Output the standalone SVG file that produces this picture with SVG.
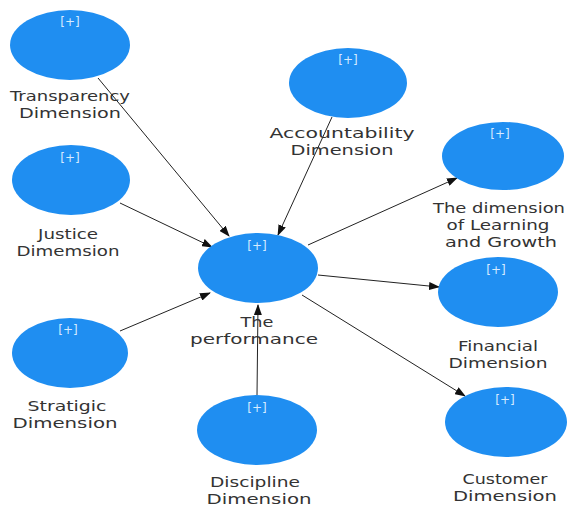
<svg xmlns="http://www.w3.org/2000/svg" width="571" height="508" viewBox="0 0 571 508">
<defs>
<marker id="arr" markerWidth="11" markerHeight="8" refX="10" refY="4" orient="auto" markerUnits="userSpaceOnUse">
<path d="M0,0 L11,4 L0,8 z" fill="#111"/>
</marker>
<style>
.n{fill:#1f8ef1;}
.p{font-family:"DejaVu Sans",sans-serif;font-size:12px;fill:#d6ebff;text-anchor:middle;}
.l{font-family:"DejaVu Sans",sans-serif;font-size:14px;fill:#333;text-anchor:middle;}
.c{stroke:#222;stroke-width:1;fill:none;marker-end:url(#arr);}
</style>
</defs>
<rect width="571" height="508" fill="#fff"/>
<g id="connectors">
<line class="c" x1="98" y1="78" x2="229" y2="236"/>
<line class="c" x1="120" y1="203" x2="212" y2="247"/>
<line class="c" x1="120" y1="331" x2="210" y2="293"/>
<line class="c" x1="332" y1="117" x2="278" y2="235"/>
<line class="c" x1="257" y1="395" x2="258" y2="305"/>
<line class="c" x1="308" y1="245" x2="457" y2="178"/>
<line class="c" x1="318" y1="275" x2="439" y2="287"/>
<line class="c" x1="302" y1="295" x2="465" y2="396"/>
</g>
<g id="transparency">
<ellipse class="n" cx="70" cy="45" rx="60" ry="35"/>
<text class="p" x="70" y="26">[+]</text>
<text class="l" x="70" y="101" textLength="120" lengthAdjust="spacingAndGlyphs">Transparency</text>
<text class="l" x="70" y="118" textLength="102" lengthAdjust="spacingAndGlyphs">Dimension</text>
</g>
<g id="accountability">
<ellipse class="n" cx="348" cy="83" rx="59" ry="35"/>
<text class="p" x="348" y="64">[+]</text>
<text class="l" x="342" y="138" textLength="145" lengthAdjust="spacingAndGlyphs">Accountability</text>
<text class="l" x="342" y="155" textLength="103" lengthAdjust="spacingAndGlyphs">Dimension</text>
</g>
<g id="performance">
<ellipse class="n" cx="258" cy="268" rx="60" ry="35"/>
<text class="p" x="257" y="250">[+]</text>
<text class="l" x="257" y="327" textLength="33" lengthAdjust="spacingAndGlyphs">The</text>
<text class="l" x="254" y="344" textLength="128" lengthAdjust="spacingAndGlyphs">performance</text>
</g>
<g id="justice">
<ellipse class="n" cx="71" cy="180" rx="59" ry="35"/>
<text class="p" x="70" y="162">[+]</text>
<text class="l" x="68" y="239" textLength="60" lengthAdjust="spacingAndGlyphs">Justice</text>
<text class="l" x="68" y="256" textLength="103" lengthAdjust="spacingAndGlyphs">Dimemsion</text>
</g>
<g id="learning">
<ellipse class="n" cx="503" cy="156" rx="61" ry="34"/>
<text class="p" x="500" y="138">[+]</text>
<text class="l" x="499" y="213" textLength="132" lengthAdjust="spacingAndGlyphs">The dimension</text>
<text class="l" x="498" y="230" textLength="103" lengthAdjust="spacingAndGlyphs">of Learning</text>
<text class="l" x="501" y="247" textLength="112" lengthAdjust="spacingAndGlyphs">and Growth</text>
</g>
<g id="financial">
<ellipse class="n" cx="498" cy="292" rx="60" ry="35"/>
<text class="p" x="496" y="274">[+]</text>
<text class="l" x="498" y="351" textLength="80" lengthAdjust="spacingAndGlyphs">Financial</text>
<text class="l" x="498" y="368" textLength="99" lengthAdjust="spacingAndGlyphs">Dimension</text>
</g>
<g id="stratigic">
<ellipse class="n" cx="70" cy="353" rx="58" ry="35"/>
<text class="p" x="68" y="334">[+]</text>
<text class="l" x="67" y="411" textLength="79" lengthAdjust="spacingAndGlyphs">Stratigic</text>
<text class="l" x="65" y="428" textLength="105" lengthAdjust="spacingAndGlyphs">Dimension</text>
</g>
<g id="discipline">
<ellipse class="n" cx="257" cy="430" rx="60" ry="35"/>
<text class="p" x="257" y="412">[+]</text>
<text class="l" x="255" y="487" textLength="90" lengthAdjust="spacingAndGlyphs">Discipline</text>
<text class="l" x="259" y="504" textLength="105" lengthAdjust="spacingAndGlyphs">Dimension</text>
</g>
<g id="customer">
<ellipse class="n" cx="506" cy="422" rx="61" ry="35"/>
<text class="p" x="505" y="404">[+]</text>
<text class="l" x="505" y="484" textLength="85" lengthAdjust="spacingAndGlyphs">Customer</text>
<text class="l" x="505" y="501" textLength="104" lengthAdjust="spacingAndGlyphs">Dimension</text>
</g>
</svg>
